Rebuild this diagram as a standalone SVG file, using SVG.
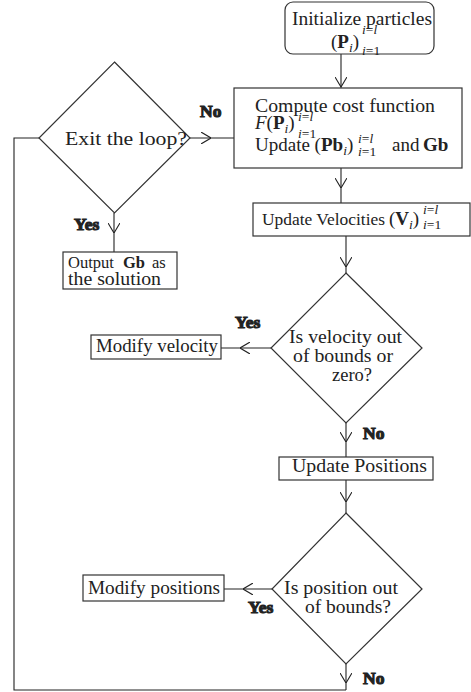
<svg xmlns="http://www.w3.org/2000/svg" width="471" height="692" viewBox="0 0 471 692">
<style>
text{font-family:"Liberation Serif","DejaVu Serif",serif;font-size:19px;fill:#222}
.s{font-size:13.5px}
.b{font-weight:bold}
.it{font-style:italic}
.lbl{font-weight:bold;font-size:17.5px}
.box{fill:#fff;stroke:#333;stroke-width:1.2}
.conn{fill:none;stroke:#222;stroke-width:1.1}
</style>
<defs>
<marker id="v" viewBox="0 0 10 12" refX="10" refY="6" markerWidth="10" markerHeight="12" markerUnits="userSpaceOnUse" orient="auto">
<path d="M0,0 L10,6 L0,12" fill="none" stroke="#222" stroke-width="1.1"/>
</marker>
</defs>
<rect width="471" height="692" fill="#fff"/>
<g id="connectors" class="conn">
<path d="M341,54 L341,87 L341,88" marker-mid="url(#v)"/>
<path d="M190,138 L211,138 L234,138" marker-mid="url(#v)"/>
<path d="M114,213 L114,233 L114,252" marker-mid="url(#v)"/>
<path d="M341,168 L341,188 L341,203" marker-mid="url(#v)"/>
<path d="M346,236 L346,267 L346,273" marker-mid="url(#v)"/>
<path d="M271,348 L240,348 L221,348" marker-mid="url(#v)"/>
<path d="M346,423 L346,442 L346,457" marker-mid="url(#v)"/>
<path d="M346,480 L346,502 L346,513" marker-mid="url(#v)"/>
<path d="M272,589 L243,589 L224,589" marker-mid="url(#v)"/>
<path d="M346,664 L346,683 L346,690" marker-mid="url(#v)"/>
<path d="M346,690 L14,690 L14,138 L39,138"/>
<text class="lbl" x="200" y="117">No</text>
<text class="lbl" x="74" y="230">Yes</text>
<text class="lbl" x="235" y="328">Yes</text>
<text class="lbl" x="363" y="439">No</text>
<text class="lbl" x="248" y="613">Yes</text>
<text class="lbl" x="363" y="684">No</text>
</g>
<g id="init">
<rect class="box" x="285" y="2" width="149" height="52" rx="8"/>
<text x="292" y="25" textLength="140" lengthAdjust="spacingAndGlyphs">Initialize particles</text>
<text x="331" y="48">(<tspan class="b">P</tspan><tspan class="s it" dy="4">i</tspan><tspan dy="-4">)</tspan></text>
<text x="362" y="34" class="s"><tspan class="it">i</tspan>=<tspan class="it">l</tspan></text>
<text x="362" y="55" class="s"><tspan class="it">i</tspan>=1</text>
</g>
<g id="compute">
<rect class="box" x="234" y="88" width="228" height="80"/>
<text x="255" y="112" textLength="180" lengthAdjust="spacingAndGlyphs">Compute cost function</text>
<text x="255" y="129"><tspan class="it">F</tspan>(<tspan class="b">P</tspan><tspan class="s it" dy="4">i</tspan><tspan dy="-4">)</tspan></text>
<text x="298" y="121" class="s"><tspan class="it">i</tspan>=<tspan class="it">l</tspan></text>
<text x="298" y="138" class="s"><tspan class="it">i</tspan>=1</text>
<text x="255" y="151">Update (<tspan class="b">Pb</tspan><tspan class="s it" dy="4">i</tspan><tspan dy="-4">)</tspan></text>
<text x="358" y="143" class="s"><tspan class="it">i</tspan>=<tspan class="it">l</tspan></text>
<text x="358" y="156" class="s"><tspan class="it">i</tspan>=1</text>
<text x="392" y="151">and</text>
<text x="423" y="151" class="b">Gb</text>
</g>
<g id="exit">
<polygon class="box" points="114.5,62 190,138 114.5,213 39,138"/>
<text x="65" y="145" textLength="122" lengthAdjust="spacingAndGlyphs">Exit the loop?</text>
</g>
<g id="output">
<rect class="box" x="63" y="252" width="114" height="37"/>
<text x="68" y="268" style="font-size:16.5px">Output</text>
<text x="123" y="268" style="font-size:16.5px" class="b">Gb</text>
<text x="152" y="268" style="font-size:16.5px">as</text>
<text x="68" y="285" textLength="93" lengthAdjust="spacingAndGlyphs">the solution</text>
</g>
<g id="velocities">
<rect class="box" x="253" y="203" width="217" height="33"/>
<text x="262" y="225" style="font-size:17px" textLength="123" lengthAdjust="spacingAndGlyphs">Update Velocities</text>
<text x="389" y="225">(<tspan class="b">V</tspan><tspan class="s it" dy="4">i</tspan><tspan dy="-4">)</tspan></text>
<text x="423" y="214" class="s"><tspan class="it">i</tspan>=<tspan class="it">l</tspan></text>
<text x="423" y="229" class="s"><tspan class="it">i</tspan>=1</text>
</g>
<g id="velcheck">
<polygon class="box" points="346,273 422,348 346,423 271,348"/>
<text x="289" y="343" textLength="113" lengthAdjust="spacingAndGlyphs">Is velocity out</text>
<text x="293" y="362" textLength="100" lengthAdjust="spacingAndGlyphs">of bounds or</text>
<text x="332" y="381" textLength="40" lengthAdjust="spacingAndGlyphs">zero?</text>
</g>
<g id="modvel">
<rect class="box" x="91" y="335" width="130" height="24"/>
<text x="96" y="352" textLength="122" lengthAdjust="spacingAndGlyphs">Modify velocity</text>
</g>
<g id="positions">
<rect class="box" x="279" y="457" width="154" height="23"/>
<text x="292" y="472" textLength="135" lengthAdjust="spacingAndGlyphs">Update Positions</text>
</g>
<g id="poscheck">
<polygon class="box" points="346,513 422,589 346,664 272,589"/>
<text x="284" y="594" textLength="114" lengthAdjust="spacingAndGlyphs">Is position out</text>
<text x="305" y="613" textLength="86" lengthAdjust="spacingAndGlyphs">of bounds?</text>
</g>
<g id="modpos">
<rect class="box" x="83" y="575" width="141" height="26"/>
<text x="88" y="594" textLength="132" lengthAdjust="spacingAndGlyphs">Modify positions</text>
</g>
</svg>
